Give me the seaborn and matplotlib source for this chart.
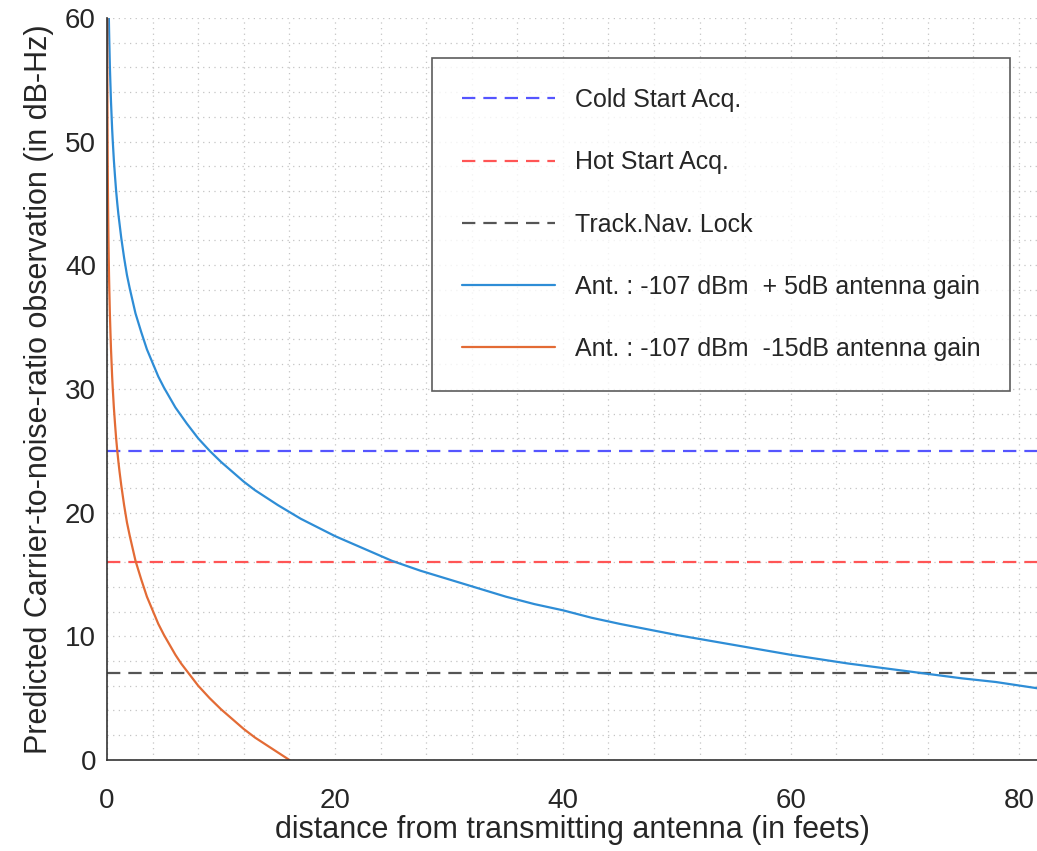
import matplotlib
matplotlib.use("Agg")
import matplotlib.pyplot as plt
from matplotlib.ticker import MultipleLocator
import seaborn as sns
import pandas as pd

# thresholds (dB-Hz)
thr_labels = ["Cold Start Acq.", "Hot Start Acq.", "Track.Nav. Lock"]
thr_values = [25, 16, 7]
thr_colors = ["#5555ff", "#ff5555", "#555555"]

# curve: +5dB antenna gain
blue_x = [0.16, 0.18, 0.2, 0.22, 0.25, 0.3, 0.35, 0.4, 0.45, 0.5, 0.6, 0.7, 0.8, 0.9, 1,
          1.25, 1.5, 1.75, 2, 2.25, 2.5, 3, 3.5, 4, 4.5, 5, 5.5, 6, 7, 8, 9, 10, 11, 12, 13,
          15, 17, 20, 22, 25, 27.5, 30, 32.5, 35, 37.5, 40, 42.5, 45, 47.5, 50, 52.5, 55,
          57.5, 60, 62.5, 65, 67.5, 70, 72.5, 75, 78, 81.6]
blue_y = [60.0, 59.0, 58.1, 57.3, 56.1, 54.6, 53.2, 52.1, 51.0, 50.1, 48.5, 47.2, 46.0, 45.0,
          44.1, 42.2, 40.6, 39.2, 38.1, 37.1, 36.1, 34.6, 33.2, 32.1, 31.0, 30.1, 29.3, 28.5,
          27.2, 26.0, 25.0, 24.1, 23.3, 22.5, 21.8, 20.6, 19.5, 18.1, 17.3, 16.1, 15.3, 14.6,
          13.9, 13.2, 12.6, 12.1, 11.5, 11.0, 10.55, 10.1, 9.7, 9.3, 8.9, 8.5, 8.15, 7.8, 7.5,
          7.2, 6.9, 6.6, 6.3, 5.8]

# -15dB antenna gain
orange_x = [0.016, 0.018, 0.02, 0.025, 0.03, 0.04, 0.05, 0.06, 0.07, 0.08, 0.09, 0.1, 0.12,
            0.15, 0.175, 0.2, 0.25, 0.3, 0.35, 0.4, 0.45, 0.5, 0.6, 0.7, 0.8, 0.9, 1, 1.1,
            1.25, 1.5, 1.75, 2, 2.25, 2.5, 3, 3.5, 4, 4.5, 5, 5.5, 6, 6.5, 7, 7.5, 8, 9, 10,
            11, 12, 13, 14, 15, 16]
orange_y = [60.0, 59.0, 58.1, 56.1, 54.6, 52.1, 50.1, 48.5, 47.2, 46.0, 45.0, 44.1, 42.5,
            40.6, 39.2, 38.1, 36.1, 34.6, 33.2, 32.1, 31.0, 30.1, 28.5, 27.2, 26.0, 25.0, 24.1,
            23.3, 22.2, 20.6, 19.2, 18.1, 17.1, 16.1, 14.6, 13.2, 12.1, 11.0, 10.1, 9.3, 8.5,
            7.8, 7.2, 6.6, 6.0, 5.0, 4.1, 3.3, 2.5, 1.8, 1.2, 0.6, 0.0]

curves = pd.concat([
    pd.DataFrame({"x": blue_x, "y": blue_y, "s": "Ant. : -107 dBm  + 5dB antenna gain"}),
    pd.DataFrame({"x": orange_x, "y": orange_y, "s": "Ant. : -107 dBm  -15dB antenna gain"}),
])

sns.set_style("white")
plt.rcParams["font.family"] = ["Liberation Sans", "DejaVu Sans"]

fig = plt.figure(figsize=(10.37, 8.51), dpi=100)
ax = fig.add_axes([0.1032, 0.107, 0.8968, 0.872])

for lab, val, col in zip(thr_labels, thr_values, thr_colors):
    ax.axhline(val, color=col, lw=1.6, ls=(0, (6, 3.6)), label=lab)

sns.lineplot(data=curves, x="x", y="y", hue="s", palette=["#2e8dd6", "#e36b35"],
             sort=False, estimator=None, lw=1.6, ax=ax)

ax.set_xlim(0, 81.6)
ax.set_ylim(0, 60)
ax.xaxis.set_major_locator(MultipleLocator(20))
ax.xaxis.set_minor_locator(MultipleLocator(4))
ax.yaxis.set_major_locator(MultipleLocator(10))
ax.yaxis.set_minor_locator(MultipleLocator(2))
ax.grid(True, which="both", color="#c4c4c4", ls=(0, (1, 3.5)), lw=0.9)
ax.set_axisbelow(True)

for s in ["top", "right"]:
    ax.spines[s].set_visible(False)
for s in ["left", "bottom"]:
    ax.spines[s].set_color("#333333")
    ax.spines[s].set_linewidth(1.2)
ax.tick_params(which="major", direction="in", length=7, width=1.2, color="#333333",
               labelsize=20, labelcolor="#262626")
ax.tick_params(axis="x", pad=20)
ax.tick_params(axis="y", pad=8)
ax.tick_params(which="minor", length=0)

ax.set_xlabel("distance from transmitting antenna (in feets)", fontsize=22, color="#262626", labelpad=1)
ax.set_ylabel("Predicted Carrier-to-noise-ratio observation (in dB-Hz)", fontsize=22,
              color="#262626", labelpad=8)

leg = ax.legend(loc="upper left", bbox_to_anchor=(0.4166, 0.9318), bbox_transform=fig.transFigure,
                fontsize=18, frameon=True, fancybox=False, edgecolor="#333333",
                labelspacing=1.53, handlelength=3.7, handletextpad=0.8, borderpad=1.2,
                borderaxespad=0)
leg.get_frame().set_linewidth(1.2)

fig.savefig("out.png", dpi=100)
